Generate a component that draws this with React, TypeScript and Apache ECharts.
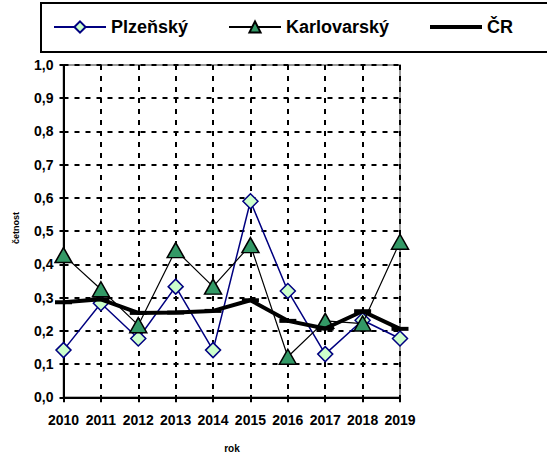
import React, { useEffect, useRef } from "react";
import * as echarts from "echarts";

const years = ["2010", "2011", "2012", "2013", "2014", "2015", "2016", "2017", "2018", "2019"];
const plzensky = [0.142, 0.283, 0.177, 0.333, 0.142, 0.59, 0.32, 0.13, 0.232, 0.177];
const karlovarsky = [0.428, 0.325, 0.217, 0.443, 0.333, 0.458, 0.122, 0.23, 0.222, 0.468];
const cr = [0.286, 0.295, 0.254, 0.255, 0.26, 0.292, 0.23, 0.207, 0.259, 0.206];
const seriesNames = ["Plzeňský", "Karlovarský", "ČR"];
const yTicks = { min: 0, max: 1, interval: 0.1 };
const yTitle = "četnost";
const xTitle = "rok";

const FONT = "Arial, 'Liberation Sans', sans-serif";

export default function App() {
  const ref = useRef<HTMLDivElement>(null);
  useEffect(() => {
    if (!ref.current) return;
    const chart = echarts.init(ref.current, null, { renderer: "svg" });
    const dashed = { show: true, lineStyle: { color: "#000", width: 2, type: [5, 6] as any } };
    const legendText = { fontFamily: FONT, fontWeight: "bold" as const, fontSize: 18, color: "#000" };
    const legendCommon = {
      top: 18,
      padding: 0,
      itemWidth: 52,
      itemHeight: 14,
      itemGap: 0,
      textStyle: legendText,
      selectedMode: false,
    };
    chart.setOption({
      animation: false,
      backgroundColor: "#fff",
      grid: {
        left: 63.5,
        right: 147,
        top: 65,
        bottom: 56.7,
        show: true,
        borderColor: "#999",
        borderWidth: 2,
        backgroundColor: "transparent",
      },
      legend: [
        { ...legendCommon, left: 53, data: [seriesNames[0]] },
        { ...legendCommon, left: 228, data: [seriesNames[1]] },
        {
          ...legendCommon,
          left: 430,
          itemHeight: 4,
          data: [{ name: seriesNames[2], icon: "rect" }],
        },
      ],
      graphic: [
        {
          type: "rect",
          shape: { x: 41, y: 3, width: 540, height: 49 },
          style: { fill: "none", stroke: "#000", lineWidth: 2 },
          silent: true,
        },
        {
          type: "text",
          x: 16,
          y: 228,
          rotation: Math.PI / 2,
          style: {
            text: yTitle,
            fontFamily: FONT,
            fontWeight: "bold",
            fontSize: 9,
            fill: "#000",
            align: "center",
            verticalAlign: "middle",
          },
        },
        {
          type: "text",
          x: 232,
          y: 448,
          style: {
            text: xTitle,
            fontFamily: FONT,
            fontWeight: "bold",
            fontSize: 10,
            fill: "#000",
            align: "center",
            verticalAlign: "middle",
          },
        },
      ],
      xAxis: {
        type: "category",
        data: years,
        boundaryGap: false,
        axisLine: { lineStyle: { color: "#000", width: 2 } },
        axisTick: { show: true, length: 5, lineStyle: { color: "#000", width: 2 }, alignWithLabel: true },
        axisLabel: {
          interval: 0,
          margin: 16,
          fontFamily: FONT,
          fontWeight: "bold",
          fontSize: 14,
          color: "#000",
        },
        splitLine: dashed,
      },
      yAxis: {
        type: "value",
        min: yTicks.min,
        max: yTicks.max,
        interval: yTicks.interval,
        axisLine: { show: true, lineStyle: { color: "#000", width: 2 } },
        axisTick: { show: true, length: 4, lineStyle: { color: "#000", width: 2 } },
        axisLabel: {
          margin: 10,
          fontFamily: FONT,
          fontWeight: "bold",
          fontSize: 14,
          color: "#000",
          formatter: (v: number) => v.toFixed(1).replace(".", ","),
        },
        splitLine: dashed,
      },
      series: [
        {
          name: seriesNames[0],
          type: "line",
          data: plzensky,
          symbol: "diamond",
          symbolSize: [15, 15],
          lineStyle: { color: "#000080", width: 1.5 },
          itemStyle: { color: "#CCFFCC", borderColor: "#000080", borderWidth: 1.5 },
          z: 3,
        },
        {
          name: seriesNames[1],
          type: "line",
          data: karlovarsky,
          symbol: "triangle",
          symbolSize: [17, 15],
          lineStyle: { color: "#000", width: 1.2 },
          itemStyle: { color: "#339966", borderColor: "#000", borderWidth: 1.5 },
          z: 4,
        },
        {
          name: seriesNames[2],
          type: "line",
          data: cr,
          symbol: "rect",
          symbolSize: [17, 4],
          lineStyle: { color: "#000", width: 4 },
          itemStyle: { color: "#000" },
          z: 5,
        },
      ],
    });
    return () => chart.dispose();
  }, []);
  return (
    <div
      ref={ref}
      style={{ position: "fixed", left: 0, top: 0, width: 547, height: 454, background: "#fff" }}
    />
  );
}
